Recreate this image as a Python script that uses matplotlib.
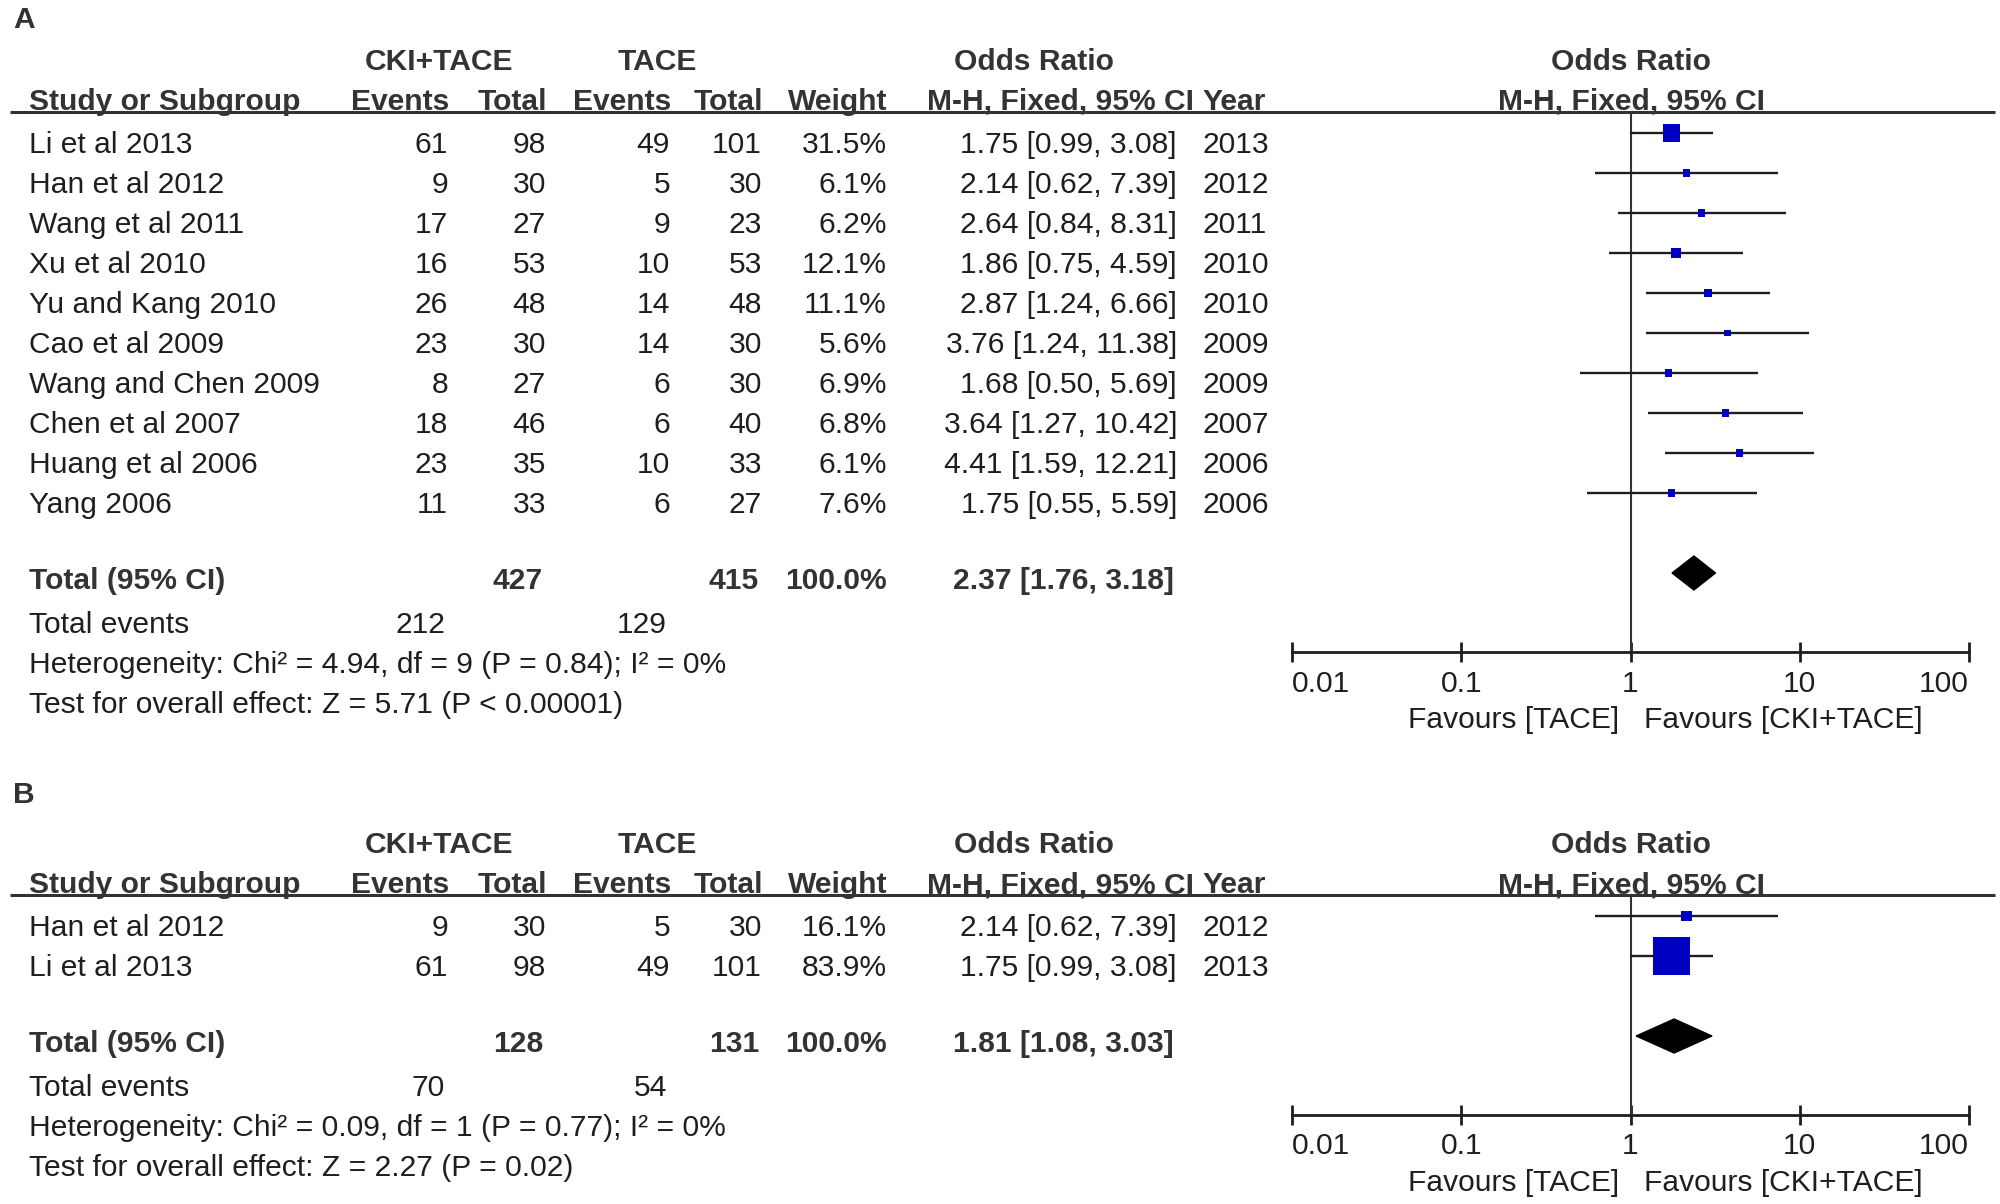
import matplotlib
matplotlib.use('Agg')
import matplotlib.pyplot as plt
from matplotlib.patches import Polygon
from matplotlib.ticker import FixedLocator, FixedFormatter, NullLocator

plt.rcParams['font.family'] = ['Liberation Sans', 'DejaVu Sans']

# ---- panel A: all ten trials
studies_a = ['Li et al 2013', 'Han et al 2012', 'Wang et al 2011', 'Xu et al 2010',
             'Yu and Kang 2010', 'Cao et al 2009', 'Wang and Chen 2009',
             'Chen et al 2007', 'Huang et al 2006', 'Yang 2006']
years_a = [2013, 2012, 2011, 2010, 2010, 2009, 2009, 2007, 2006, 2006]
ev_cki_a = [61, 9, 17, 16, 26, 23, 8, 18, 23, 11]
n_cki_a = [98, 30, 27, 53, 48, 30, 27, 46, 35, 33]
ev_tace_a = [49, 5, 9, 10, 14, 14, 6, 6, 10, 6]
n_tace_a = [101, 30, 23, 53, 48, 30, 30, 40, 33, 27]
weight_a = [31.5, 6.1, 6.2, 12.1, 11.1, 5.6, 6.9, 6.8, 6.1, 7.6]
or_a = [1.75, 2.14, 2.64, 1.86, 2.87, 3.76, 1.68, 3.64, 4.41, 1.75]
lo_a = [0.99, 0.62, 0.84, 0.75, 1.24, 1.24, 0.50, 1.27, 1.59, 0.55]
hi_a = [3.08, 7.39, 8.31, 4.59, 6.66, 11.38, 5.69, 10.42, 12.21, 5.59]
pooled_a = [2.37, 1.76, 3.18]
totals_a = [427, 415]
events_a = [212, 129]
het_a = 'Heterogeneity: Chi² = 4.94, df = 9 (P = 0.84); I² = 0%'
test_a = 'Test for overall effect: Z = 5.71 (P < 0.00001)'

# ---- panel B: subgroup
studies_b = ['Han et al 2012', 'Li et al 2013']
years_b = [2012, 2013]
ev_cki_b = [9, 61]
n_cki_b = [30, 98]
ev_tace_b = [5, 49]
n_tace_b = [30, 101]
weight_b = [16.1, 83.9]
or_b = [2.14, 1.75]
lo_b = [0.62, 0.99]
hi_b = [7.39, 3.08]
pooled_b = [1.81, 1.08, 3.03]
totals_b = [128, 131]
events_b = [70, 54]
het_b = 'Heterogeneity: Chi² = 0.09, df = 1 (P = 0.77); I² = 0%'
test_b = 'Test for overall effect: Z = 2.27 (P = 0.02)'

or_ticks = [0.01, 0.1, 1, 10, 100]
or_ticklabels = ['0.01', '0.1', '1', '10', '100']

# layout (pixels, y grows downward)
W, H = 2000, 1204
FS = 21.6
PT = 0.72          # points per pixel at dpi 100
TXT = '#1e1e1e'
HDR = '#333333'
BLUE = '#0000c0'
COL_STUDY, COL_EV1, COL_N1, COL_EV2, COL_N2 = 29, 448, 546, 670, 762
COL_W, COL_OR, COL_YEAR = 887, 1177, 1202
F_LEFT, F_RIGHT, F_MID = 1292, 1969, 1631


def txt(ax, x, y, s, ha='left', bold=False):
    ax.text(x, y, s, ha=ha, va='baseline', fontsize=FS,
            fontweight='bold' if bold else 'normal',
            color=HDR if bold else TXT)


def panel(fig, bg, y0, label, label_y, studies, years, ev1, n1, ev2, n2, weight,
          orv, lo, hi, pooled, totals, events, het, test):
    txt(bg, 13, label_y, label, bold=True)
    h1, h2 = y0 + 70, y0 + 110
    txt(bg, 439, h1, 'CKI+TACE', ha='center', bold=True)
    txt(bg, 657, h1, 'TACE', ha='center', bold=True)
    txt(bg, 1034, h1, 'Odds Ratio', ha='center', bold=True)
    txt(bg, F_MID, h1, 'Odds Ratio', ha='center', bold=True)
    txt(bg, COL_STUDY, h2, 'Study or Subgroup', bold=True)
    txt(bg, COL_EV1 + 1, h2, 'Events', ha='right', bold=True)
    txt(bg, COL_N1 + 1, h2, 'Total', ha='right', bold=True)
    txt(bg, COL_EV2 + 1, h2, 'Events', ha='right', bold=True)
    txt(bg, COL_N2 + 1, h2, 'Total', ha='right', bold=True)
    txt(bg, COL_W, h2, 'Weight', ha='right', bold=True)
    txt(bg, 927, h2, 'M-H, Fixed, 95% CI', bold=True)
    txt(bg, COL_YEAR, h2, 'Year', bold=True)
    txt(bg, F_MID, h2, 'M-H, Fixed, 95% CI', ha='center', bold=True)
    line_y = y0 + 112
    bg.plot([10, 1995], [line_y, line_y], color=HDR, lw=2.2, solid_capstyle='butt')

    rows = [y0 + 153 + 40 * i for i in range(len(studies))]
    for i, y in enumerate(rows):
        txt(bg, COL_STUDY, y, studies[i])
        txt(bg, COL_EV1, y, str(ev1[i]), ha='right')
        txt(bg, COL_N1, y, str(n1[i]), ha='right')
        txt(bg, COL_EV2, y, str(ev2[i]), ha='right')
        txt(bg, COL_N2, y, str(n2[i]), ha='right')
        txt(bg, COL_W, y, f'{weight[i]:.1f}%', ha='right')
        txt(bg, COL_OR, y, f'{orv[i]:.2f} [{lo[i]:.2f}, {hi[i]:.2f}]', ha='right')
        txt(bg, COL_YEAR, y, str(years[i]))

    ty = rows[-1] + 76
    txt(bg, COL_STUDY, ty, 'Total (95% CI)', bold=True)
    txt(bg, COL_N1 - 3, ty, str(totals[0]), ha='right', bold=True)
    txt(bg, COL_N2 - 3, ty, str(totals[1]), ha='right', bold=True)
    txt(bg, COL_W, ty, '100.0%', ha='right', bold=True)
    txt(bg, COL_OR - 3, ty, f'{pooled[0]:.2f} [{pooled[1]:.2f}, {pooled[2]:.2f}]',
        ha='right', bold=True)
    txt(bg, COL_STUDY, ty + 44, 'Total events')
    txt(bg, COL_EV1 - 3, ty + 44, str(events[0]), ha='right')
    txt(bg, COL_EV2 - 3, ty + 44, str(events[1]), ha='right')
    txt(bg, COL_STUDY, ty + 84, het)
    txt(bg, COL_STUDY, ty + 124, test)

    # forest plot on a log odds-ratio axis
    axis_y = ty + 63
    fx = fig.add_axes([F_LEFT / W, 1 - axis_y / H, (F_RIGHT - F_LEFT) / W,
                       (axis_y - line_y) / H])
    fx.set_xscale('log')
    fx.set_xlim(0.01, 100)
    fx.set_ylim(axis_y, line_y)
    fx.patch.set_visible(False)
    for s in ['top', 'left', 'right']:
        fx.spines[s].set_visible(False)
    fx.spines['bottom'].set_linewidth(2)
    fx.spines['bottom'].set_color(TXT)
    fx.xaxis.set_major_locator(FixedLocator(or_ticks))
    fx.xaxis.set_major_formatter(FixedFormatter(or_ticklabels))
    fx.xaxis.set_minor_locator(NullLocator())
    fx.tick_params(axis='x', direction='inout', length=14.4, width=2, pad=5.4,
                   labelsize=FS, labelcolor=TXT, color=TXT)
    labels = fx.get_xticklabels()
    labels[0].set_horizontalalignment('left')
    labels[-1].set_horizontalalignment('right')
    fx.set_yticks([])
    fx.axvline(1, color=HDR, lw=1.5)

    ys = [y - 20 for y in rows]
    fx.hlines(ys, lo, hi, color=TXT, lw=1.7)
    sides = [(4.6 + 0.394 * w) * PT for w in weight]
    fx.scatter(orv, ys, s=[s ** 2 for s in sides], marker='s', color=BLUE,
               linewidths=0, zorder=3, clip_on=False)
    dy = ty - 16
    fx.add_patch(Polygon([(pooled[1], dy), (pooled[0], dy - 17),
                          (pooled[2], dy), (pooled[0], dy + 17)],
                         closed=True, color='black', zorder=3))
    fx.annotate('Favours [TACE]', xy=(1, 0), xycoords=('data', 'axes fraction'),
                xytext=(-8.5, -54.5), textcoords='offset points', ha='right',
                va='baseline', fontsize=FS, color=TXT)
    fx.annotate('Favours [CKI+TACE]', xy=(1, 0), xycoords=('data', 'axes fraction'),
                xytext=(10, -54.5), textcoords='offset points', ha='left',
                va='baseline', fontsize=FS, color=TXT)


fig = plt.figure(figsize=(W / 100, H / 100), dpi=100)
bg = fig.add_axes([0, 0, 1, 1])
bg.set_xlim(0, W)
bg.set_ylim(H, 0)
bg.axis('off')

panel(fig, bg, 0, 'A', 28, studies_a, years_a, ev_cki_a, n_cki_a, ev_tace_a, n_tace_a,
      weight_a, or_a, lo_a, hi_a, pooled_a, totals_a, events_a, het_a, test_a)
panel(fig, bg, 783, 'B', 803, studies_b, years_b, ev_cki_b, n_cki_b, ev_tace_b, n_tace_b,
      weight_b, or_b, lo_b, hi_b, pooled_b, totals_b, events_b, het_b, test_b)

fig.savefig('out.png', dpi=100, facecolor='white')
